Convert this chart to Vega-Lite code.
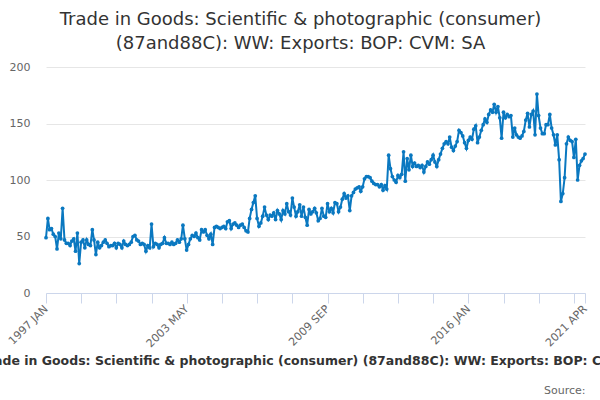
{
  "$schema": "https://vega.github.io/schema/vega-lite/v6.json",
  "background": "white",
  "autosize": {"type": "none"},
  "padding": {"left": 46, "top": 67, "right": 15, "bottom": 107},
  "width": 539,
  "height": 226,
  "title": {
    "text": ["Trade in Goods: Scientific & photographic (consumer)", "(87and88C): WW: Exports: BOP: CVM: SA"],
    "font": "DejaVu Sans",
    "fontSize": 18,
    "fontWeight": "normal",
    "color": "#333333",
    "lineHeight": 24,
    "anchor": "middle",
    "dx": -15,
    "offset": 8
  },
  "config": {
    "view": {"stroke": null},
    "font": "DejaVu Sans"
  },
  "data": {
    "values": [
      {"d":"1997-01-01","v":49},{"d":"1997-02-01","v":66},{"d":"1997-03-01","v":56},{"d":"1997-04-01","v":57},{"d":"1997-05-01","v":52},{"d":"1997-06-01","v":50},{"d":"1997-07-01","v":39},{"d":"1997-08-01","v":53},{"d":"1997-09-01","v":48},{"d":"1997-10-01","v":75},{"d":"1997-11-01","v":47},{"d":"1997-12-01","v":44},
      {"d":"1998-01-01","v":44},{"d":"1998-02-01","v":42},{"d":"1998-03-01","v":46},{"d":"1998-04-01","v":48},{"d":"1998-05-01","v":37},{"d":"1998-06-01","v":53},{"d":"1998-07-01","v":26},{"d":"1998-08-01","v":45},{"d":"1998-09-01","v":47},{"d":"1998-10-01","v":40},{"d":"1998-11-01","v":47},{"d":"1998-12-01","v":43},
      {"d":"1999-01-01","v":42},{"d":"1999-02-01","v":56},{"d":"1999-03-01","v":47},{"d":"1999-04-01","v":34},{"d":"1999-05-01","v":45},{"d":"1999-06-01","v":40},{"d":"1999-07-01","v":42},{"d":"1999-08-01","v":45},{"d":"1999-09-01","v":47},{"d":"1999-10-01","v":44},{"d":"1999-11-01","v":41},{"d":"1999-12-01","v":42},
      {"d":"2000-01-01","v":42},{"d":"2000-02-01","v":44},{"d":"2000-03-01","v":40},{"d":"2000-04-01","v":44},{"d":"2000-05-01","v":43},{"d":"2000-06-01","v":40},{"d":"2000-07-01","v":46},{"d":"2000-08-01","v":43},{"d":"2000-09-01","v":42},{"d":"2000-10-01","v":43},{"d":"2000-11-01","v":45},{"d":"2000-12-01","v":50},
      {"d":"2001-01-01","v":51},{"d":"2001-02-01","v":47},{"d":"2001-03-01","v":46},{"d":"2001-04-01","v":43},{"d":"2001-05-01","v":44},{"d":"2001-06-01","v":43},{"d":"2001-07-01","v":37},{"d":"2001-08-01","v":42},{"d":"2001-09-01","v":40},{"d":"2001-10-01","v":61},{"d":"2001-11-01","v":41},{"d":"2001-12-01","v":44},
      {"d":"2002-01-01","v":43},{"d":"2002-02-01","v":40},{"d":"2002-03-01","v":43},{"d":"2002-04-01","v":44},{"d":"2002-05-01","v":49},{"d":"2002-06-01","v":44},{"d":"2002-07-01","v":44},{"d":"2002-08-01","v":43},{"d":"2002-09-01","v":45},{"d":"2002-10-01","v":43},{"d":"2002-11-01","v":44},{"d":"2002-12-01","v":47},
      {"d":"2003-01-01","v":45},{"d":"2003-02-01","v":48},{"d":"2003-03-01","v":60},{"d":"2003-04-01","v":48},{"d":"2003-05-01","v":38},{"d":"2003-06-01","v":43},{"d":"2003-07-01","v":48},{"d":"2003-08-01","v":51},{"d":"2003-09-01","v":50},{"d":"2003-10-01","v":53},{"d":"2003-11-01","v":49},{"d":"2003-12-01","v":47},
      {"d":"2004-01-01","v":56},{"d":"2004-02-01","v":54},{"d":"2004-03-01","v":56},{"d":"2004-04-01","v":51},{"d":"2004-05-01","v":48},{"d":"2004-06-01","v":52},{"d":"2004-07-01","v":43},{"d":"2004-08-01","v":58},{"d":"2004-09-01","v":59},{"d":"2004-10-01","v":58},{"d":"2004-11-01","v":57},{"d":"2004-12-01","v":58},
      {"d":"2005-01-01","v":59},{"d":"2005-02-01","v":57},{"d":"2005-03-01","v":63},{"d":"2005-04-01","v":64},{"d":"2005-05-01","v":57},{"d":"2005-06-01","v":61},{"d":"2005-07-01","v":62},{"d":"2005-08-01","v":60},{"d":"2005-09-01","v":58},{"d":"2005-10-01","v":60},{"d":"2005-11-01","v":61},{"d":"2005-12-01","v":58},
      {"d":"2006-01-01","v":55},{"d":"2006-02-01","v":54},{"d":"2006-03-01","v":66},{"d":"2006-04-01","v":74},{"d":"2006-05-01","v":80},{"d":"2006-06-01","v":86},{"d":"2006-07-01","v":66},{"d":"2006-08-01","v":59},{"d":"2006-09-01","v":62},{"d":"2006-10-01","v":68},{"d":"2006-11-01","v":76},{"d":"2006-12-01","v":69},
      {"d":"2007-01-01","v":65},{"d":"2007-02-01","v":69},{"d":"2007-03-01","v":68},{"d":"2007-04-01","v":71},{"d":"2007-05-01","v":65},{"d":"2007-06-01","v":73},{"d":"2007-07-01","v":70},{"d":"2007-08-01","v":65},{"d":"2007-09-01","v":73},{"d":"2007-10-01","v":70},{"d":"2007-11-01","v":79},{"d":"2007-12-01","v":72},
      {"d":"2008-01-01","v":69},{"d":"2008-02-01","v":84},{"d":"2008-03-01","v":76},{"d":"2008-04-01","v":68},{"d":"2008-05-01","v":72},{"d":"2008-06-01","v":78},{"d":"2008-07-01","v":68},{"d":"2008-08-01","v":76},{"d":"2008-09-01","v":67},{"d":"2008-10-01","v":60},{"d":"2008-11-01","v":74},{"d":"2008-12-01","v":70},
      {"d":"2009-01-01","v":72},{"d":"2009-02-01","v":75},{"d":"2009-03-01","v":71},{"d":"2009-04-01","v":64},{"d":"2009-05-01","v":66},{"d":"2009-06-01","v":75},{"d":"2009-07-01","v":68},{"d":"2009-08-01","v":67},{"d":"2009-09-01","v":79},{"d":"2009-10-01","v":72},{"d":"2009-11-01","v":75},{"d":"2009-12-01","v":71},
      {"d":"2010-01-01","v":80},{"d":"2010-02-01","v":79},{"d":"2010-03-01","v":72},{"d":"2010-04-01","v":76},{"d":"2010-05-01","v":83},{"d":"2010-06-01","v":88},{"d":"2010-07-01","v":84},{"d":"2010-08-01","v":86},{"d":"2010-09-01","v":73},{"d":"2010-10-01","v":86},{"d":"2010-11-01","v":89},{"d":"2010-12-01","v":92},
      {"d":"2011-01-01","v":93},{"d":"2011-02-01","v":94},{"d":"2011-03-01","v":90},{"d":"2011-04-01","v":94},{"d":"2011-05-01","v":101},{"d":"2011-06-01","v":103},{"d":"2011-07-01","v":103},{"d":"2011-08-01","v":102},{"d":"2011-09-01","v":99},{"d":"2011-10-01","v":97},{"d":"2011-11-01","v":96},{"d":"2011-12-01","v":96},
      {"d":"2012-01-01","v":94},{"d":"2012-02-01","v":96},{"d":"2012-03-01","v":91},{"d":"2012-04-01","v":95},{"d":"2012-05-01","v":92},{"d":"2012-06-01","v":122},{"d":"2012-07-01","v":110},{"d":"2012-08-01","v":103},{"d":"2012-09-01","v":100},{"d":"2012-10-01","v":98},{"d":"2012-11-01","v":104},{"d":"2012-12-01","v":102},
      {"d":"2013-01-01","v":105},{"d":"2013-02-01","v":125},{"d":"2013-03-01","v":99},{"d":"2013-04-01","v":119},{"d":"2013-05-01","v":109},{"d":"2013-06-01","v":122},{"d":"2013-07-01","v":112},{"d":"2013-08-01","v":115},{"d":"2013-09-01","v":112},{"d":"2013-10-01","v":113},{"d":"2013-11-01","v":111},{"d":"2013-12-01","v":113},
      {"d":"2014-01-01","v":107},{"d":"2014-02-01","v":112},{"d":"2014-03-01","v":116},{"d":"2014-04-01","v":114},{"d":"2014-05-01","v":118},{"d":"2014-06-01","v":122},{"d":"2014-07-01","v":116},{"d":"2014-08-01","v":112},{"d":"2014-09-01","v":118},{"d":"2014-10-01","v":123},{"d":"2014-11-01","v":128},{"d":"2014-12-01","v":132},
      {"d":"2015-01-01","v":134},{"d":"2015-02-01","v":132},{"d":"2015-03-01","v":138},{"d":"2015-04-01","v":129},{"d":"2015-05-01","v":126},{"d":"2015-06-01","v":130},{"d":"2015-07-01","v":134},{"d":"2015-08-01","v":144},{"d":"2015-09-01","v":142},{"d":"2015-10-01","v":139},{"d":"2015-11-01","v":133},{"d":"2015-12-01","v":128},
      {"d":"2016-01-01","v":135},{"d":"2016-02-01","v":138},{"d":"2016-03-01","v":136},{"d":"2016-04-01","v":145},{"d":"2016-05-01","v":148},{"d":"2016-06-01","v":133},{"d":"2016-07-01","v":138},{"d":"2016-08-01","v":144},{"d":"2016-09-01","v":149},{"d":"2016-10-01","v":154},{"d":"2016-11-01","v":151},{"d":"2016-12-01","v":158},
      {"d":"2017-01-01","v":162},{"d":"2017-02-01","v":160},{"d":"2017-03-01","v":167},{"d":"2017-04-01","v":160},{"d":"2017-05-01","v":165},{"d":"2017-06-01","v":155},{"d":"2017-07-01","v":137},{"d":"2017-08-01","v":160},{"d":"2017-09-01","v":155},{"d":"2017-10-01","v":158},{"d":"2017-11-01","v":156},{"d":"2017-12-01","v":157},
      {"d":"2018-01-01","v":138},{"d":"2018-02-01","v":146},{"d":"2018-03-01","v":140},{"d":"2018-04-01","v":138},{"d":"2018-05-01","v":137},{"d":"2018-06-01","v":139},{"d":"2018-07-01","v":143},{"d":"2018-08-01","v":153},{"d":"2018-09-01","v":159},{"d":"2018-10-01","v":147},{"d":"2018-11-01","v":158},{"d":"2018-12-01","v":161},
      {"d":"2019-01-01","v":140},{"d":"2019-02-01","v":176},{"d":"2019-03-01","v":157},{"d":"2019-04-01","v":146},{"d":"2019-05-01","v":141},{"d":"2019-06-01","v":141},{"d":"2019-07-01","v":149},{"d":"2019-08-01","v":149},{"d":"2019-09-01","v":158},{"d":"2019-10-01","v":146},{"d":"2019-11-01","v":140},{"d":"2019-12-01","v":131},
      {"d":"2020-01-01","v":140},{"d":"2020-02-01","v":118},{"d":"2020-03-01","v":81},{"d":"2020-04-01","v":88},{"d":"2020-05-01","v":102},{"d":"2020-06-01","v":132},{"d":"2020-07-01","v":138},{"d":"2020-08-01","v":135},{"d":"2020-09-01","v":134},{"d":"2020-10-01","v":120},{"d":"2020-11-01","v":136},{"d":"2020-12-01","v":100},
      {"d":"2021-01-01","v":113},{"d":"2021-02-01","v":117},{"d":"2021-03-01","v":119},{"d":"2021-04-01","v":123}
    ]
  },
  "layer": [
    {
      "mark": {
        "type": "line",
        "color": "#0a78c0",
        "strokeWidth": 2,
        "point": {"filled": true, "size": 14, "color": "#0a78c0"}
      },
      "encoding": {
        "x": {
          "field": "d",
          "type": "temporal",
          "scale": {"type": "utc", "nice": false},
          "axis": {
            "values": [
              {"year": 1997, "month": 1, "date": 1, "utc": true},
              {"year": 1998, "month": 8, "date": 1, "utc": true},
              {"year": 2000, "month": 3, "date": 1, "utc": true},
              {"year": 2001, "month": 10, "date": 1, "utc": true},
              {"year": 2003, "month": 5, "date": 1, "utc": true},
              {"year": 2004, "month": 12, "date": 1, "utc": true},
              {"year": 2006, "month": 7, "date": 1, "utc": true},
              {"year": 2008, "month": 2, "date": 1, "utc": true},
              {"year": 2009, "month": 9, "date": 1, "utc": true},
              {"year": 2011, "month": 4, "date": 1, "utc": true},
              {"year": 2012, "month": 11, "date": 1, "utc": true},
              {"year": 2014, "month": 6, "date": 1, "utc": true},
              {"year": 2016, "month": 1, "date": 1, "utc": true},
              {"year": 2017, "month": 8, "date": 1, "utc": true},
              {"year": 2019, "month": 3, "date": 1, "utc": true},
              {"year": 2020, "month": 10, "date": 1, "utc": true},
              {"year": 2021, "month": 4, "date": 1, "utc": true}
            ],
            "labelExpr": "((utcyear(datum.value) - 1997) * 12 + utcmonth(datum.value)) % 76 == 0 || ((utcyear(datum.value) - 1997) * 12 + utcmonth(datum.value)) == 291 ? upper(utcFormat(datum.value, '%Y %b')) : ''",
            "labelAngle": -45,
            "labelAlign": "right",
            "labelBaseline": "middle",
            "labelOverlap": false,
            "labelFlush": false,
            "labelBound": false,
            "labelColor": "#666666",
            "labelFontSize": 11,
            "labelPadding": 4,
            "tickSize": 10,
            "tickColor": "#ccd6eb",
            "domainColor": "#ccd6eb",
            "grid": false,
            "title": "Trade in Goods: Scientific & photographic (consumer) (87and88C): WW: Exports: BOP: CVM: SA",
            "titleFontWeight": "bold",
            "titleFontSize": 12.5,
            "titleColor": "#333333",
            "titleLimit": 2000,
            "titlePadding": 6
          }
        },
        "y": {
          "field": "v",
          "type": "quantitative",
          "scale": {"domain": [0, 200], "nice": false},
          "axis": {
            "values": [0, 50, 100, 150, 200],
            "title": null,
            "grid": true,
            "gridColor": "#e6e6e6",
            "domain": false,
            "ticks": false,
            "labelColor": "#666666",
            "labelFontSize": 11,
            "labelPadding": 16
          }
        }
      }
    },
    {
      "mark": {"type": "rule", "opacity": 0},
      "encoding": {
        "x": {
          "field": "d",
          "type": "temporal",
          "scale": {"type": "utc", "nice": false},
          "axis": {
            "orient": "bottom",
            "labels": false,
            "ticks": false,
            "domain": false,
            "grid": false,
            "title": "Source:",
            "titleAnchor": "end",
            "titleFontWeight": "normal",
            "titleFontSize": 11,
            "titleColor": "#666666",
            "titlePadding": 91
          }
        }
      }
    }
  ],
  "resolve": {"scale": {"x": "independent"}, "axis": {"x": "independent"}}
}
